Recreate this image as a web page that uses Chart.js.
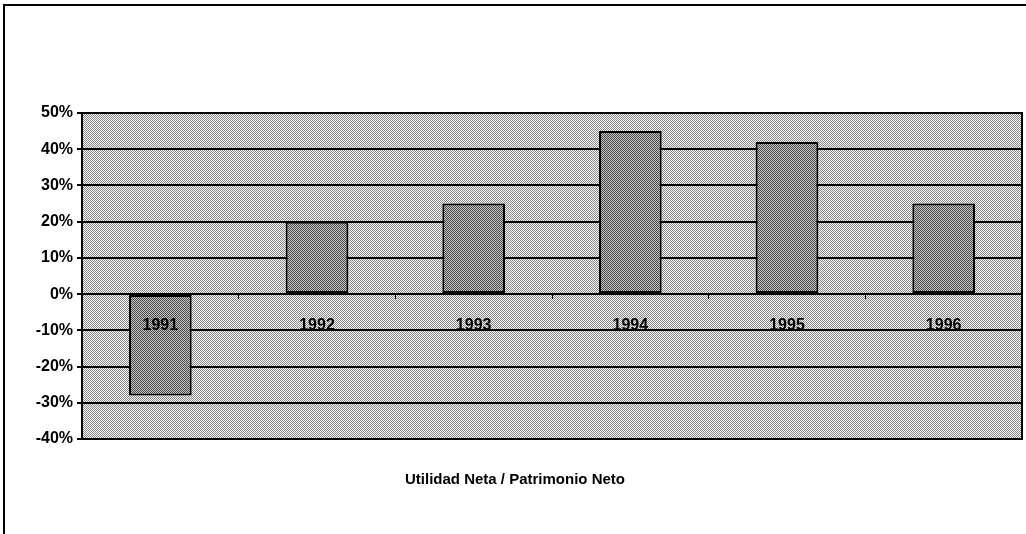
<!DOCTYPE html>
<html lang="es">
<head>
  <meta charset="UTF-8" />
  <title>Utilidad Neta / Patrimonio Neto</title>
  <script src="https://cdn.jsdelivr.net/npm/chart.js"></script>
  <style>
    html, body { margin: 0; padding: 0; background: #fff; }
    #wrap { width: 1026px; height: 534px; position: relative; }
  </style>
</head>
<body>
  <div id="wrap"><canvas id="chart"></canvas></div>

  <script>
    // datos
    const years = ['1991', '1992', '1993', '1994', '1995', '1996'];
    const ratio = [-28, 20, 25, 45, 42, 25];
    const yTicks = [-40, -30, -20, -10, 0, 10, 20, 30, 40, 50];

    // trama punteada tipo impresion
    function dither(dark, light) {
      const c = document.createElement('canvas');
      c.width = 2; c.height = 2;
      const g = c.getContext('2d');
      g.fillStyle = light; g.fillRect(0, 0, 2, 2);
      g.fillStyle = dark;
      g.fillRect(0, 0, 1, 1);
      g.fillRect(1, 1, 1, 1);
      return g.createPattern(c, 'repeat');
    }
    const bgPattern = dither('#8a8a8a', '#f6f6f6');
    const barPattern = dither('#4a4a4a', '#c4c4c4');

    const framePlugin = {
      id: 'frame',
      beforeDraw(chart) {
        const { ctx, chartArea: a } = chart;
        ctx.save();
        ctx.fillStyle = '#fff';
        ctx.fillRect(0, 0, chart.width, chart.height);
        ctx.strokeStyle = '#000';
        ctx.lineWidth = 2;
        ctx.beginPath();
        ctx.moveTo(4, 534);
        ctx.lineTo(4, 5);
        ctx.lineTo(1026, 5);
        ctx.stroke();
        ctx.fillStyle = bgPattern;
        ctx.fillRect(a.left, a.top, a.right - a.left, a.bottom - a.top);
        ctx.restore();
      },
      afterDraw(chart) {
        const { ctx, chartArea: a } = chart;
        ctx.save();
        ctx.strokeStyle = '#000';
        ctx.lineWidth = 2;
        ctx.strokeRect(a.left, a.top, a.right - a.left, a.bottom - a.top);
        ctx.restore();
      }
    };

    const ctx = document.getElementById('chart').getContext('2d');

    new Chart(ctx, {
      type: 'bar',
      data: {
        labels: years,
        datasets: [{
          label: 'Utilidad Neta / Patrimonio Neto',
          data: ratio,
          backgroundColor: barPattern,
          borderColor: '#000',
          borderWidth: 2,
          borderSkipped: false,
          barPercentage: 0.4,
          categoryPercentage: 1
        }]
      },
      options: {
        responsive: true,
        maintainAspectRatio: false,
        animation: false,
        layout: { padding: { top: 113, right: 4, bottom: 0, left: 8 } },
        plugins: {
          legend: { display: false },
          tooltip: { enabled: false },
          title: {
            display: true,
            position: 'bottom',
            text: 'Utilidad Neta / Patrimonio Neto',
            color: '#000',
            font: { family: 'Liberation Sans', size: 15, weight: 'bold' },
            padding: { top: 32, bottom: 45 }
          }
        },
        scales: {
          x: {
            position: { y: 0 },
            offset: true,
            grid: {
              display: true,
              drawOnChartArea: false,
              offset: true,
              tickLength: 5,
              color: '#000',
              lineWidth: 1,
              z: 1
            },
            border: { display: false },
            ticks: {
              z: 2,
              color: '#000',
              padding: 17,
              font: { family: 'Liberation Sans', size: 16, weight: 'bold' }
            }
          },
          y: {
            min: -40,
            max: 50,
            afterBuildTicks(scale) {
              scale.ticks = yTicks.map(v => ({ value: v }));
            },
            afterFit(scale) { scale.width = 74; },
            grid: {
              color: '#000',
              lineWidth: 2,
              tickLength: 5
            },
            border: { display: false },
            ticks: {
              color: '#000',
              padding: 4,
              font: { family: 'Liberation Sans', size: 16, weight: 'bold' },
              callback: v => v + '%'
            }
          }
        }
      },
      plugins: [framePlugin]
    });
  </script>
</body>
</html>
